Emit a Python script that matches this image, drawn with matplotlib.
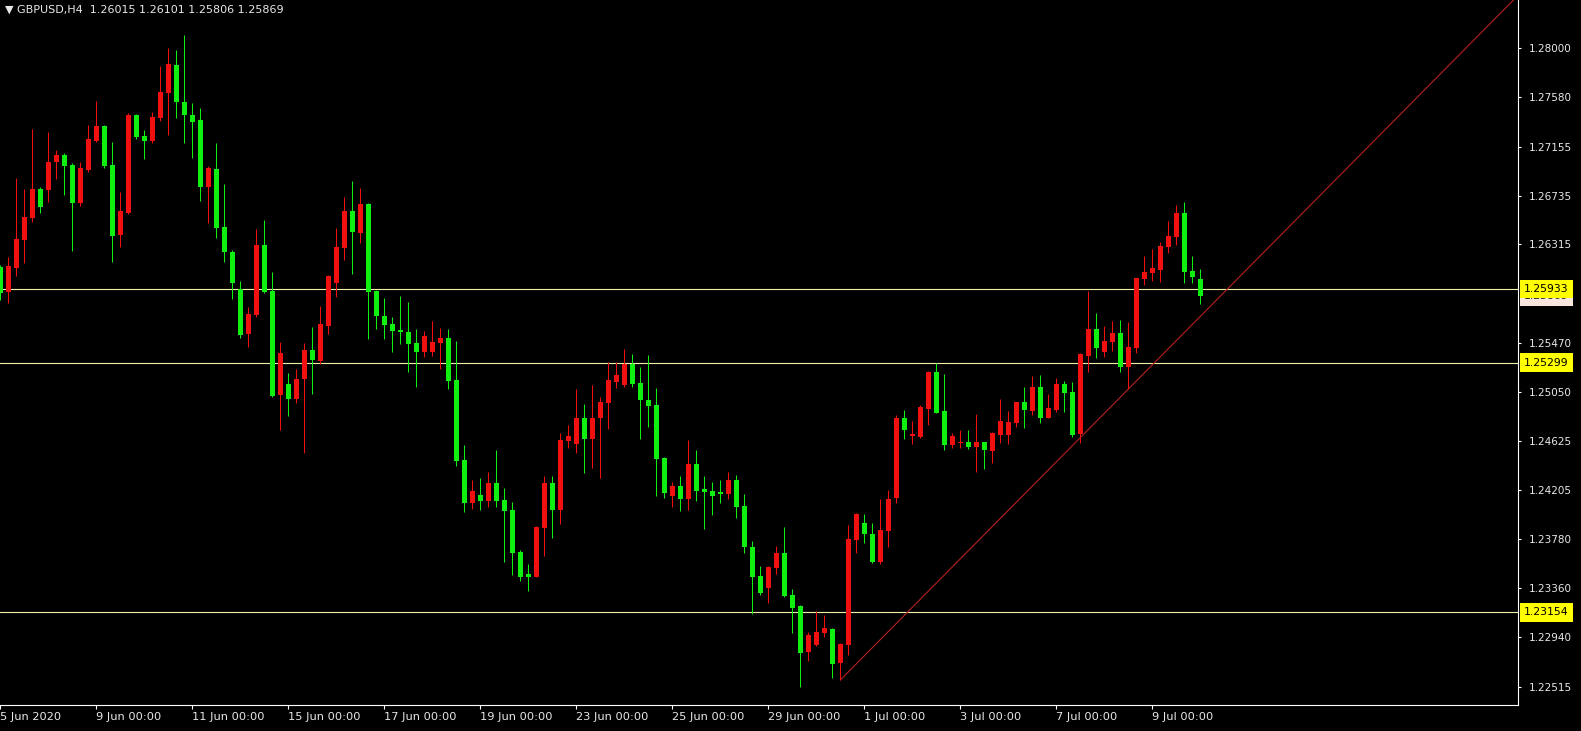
import matplotlib
matplotlib.use("Agg")
import matplotlib.pyplot as plt
import matplotlib.transforms as mtransforms
import numpy as np

# GBPUSD H4 candles (bar 0 = leftmost visible)
title_text = "\u25bc GBPUSD,H4  1.26015 1.26101 1.25806 1.25869"

opens = [
    1.26121, 1.25909, 1.26115, 1.26353, 1.26540, 1.26794, 1.26783, 1.27024, 1.27087, 1.27001,
    1.26669, 1.26955, 1.27204, 1.27333, 1.26998, 1.26396, 1.26588, 1.27428, 1.27247, 1.27204,
    1.27405, 1.27619, 1.27857, 1.27542, 1.27428, 1.27385, 1.26806, 1.26964, 1.26463, 1.26253,
    1.25930, 1.25543, 1.25709, 1.26311, 1.25915, 1.25021, 1.25116, 1.24984, 1.25155, 1.25408,
    1.25316, 1.25614, 1.25981, 1.26283, 1.26605, 1.26411, 1.26660, 1.25918, 1.25703, 1.25632,
    1.25580, 1.25563, 1.25471, 1.25391, 1.25391, 1.25471, 1.25511, 1.25150, 1.24463, 1.24096,
    1.24162, 1.24110, 1.24268, 1.24119, 1.24033, 1.23675, 1.23483, 1.23460, 1.23881, 1.24263,
    1.24033, 1.24629, 1.24600, 1.24821, 1.24643, 1.24824, 1.24953, 1.25136, 1.25107, 1.25288,
    1.25122, 1.24978, 1.24935, 1.24477, 1.24153, 1.24242, 1.24130, 1.24428, 1.24214, 1.24196,
    1.24190, 1.24171, 1.24290, 1.24070, 1.23718, 1.23466, 1.23360, 1.23537, 1.23666, 1.23303,
    1.23208, 1.22815, 1.22873, 1.22979, 1.23010, 1.22716, 1.22873, 1.23775, 1.23918, 1.23827,
    1.23584, 1.23853, 1.24134, 1.24821, 1.24672, 1.24663, 1.24901, 1.25222, 1.24884, 1.24594,
    1.24611, 1.24620, 1.24572, 1.24615, 1.24543, 1.24678, 1.24678, 1.24783, 1.24958, 1.24884,
    1.25093, 1.24826, 1.24890, 1.25116, 1.25049, 1.24684, 1.25359, 1.25589, 1.25388, 1.25479,
    1.25557, 1.25265, 1.25428, 1.26016, 1.26067, 1.26096, 1.26296, 1.26382, 1.26588, 1.26087,
    1.26015,
]
highs = [
    1.26139, 1.26210, 1.26889, 1.26792, 1.27305, 1.26812, 1.27279, 1.27127, 1.27098, 1.27013,
    1.27026, 1.27342, 1.27551, 1.27342, 1.27193, 1.26763, 1.27442, 1.27436, 1.27298, 1.27451,
    1.27849, 1.28001, 1.27986, 1.28115, 1.27528, 1.27485, 1.26989, 1.27185, 1.26832, 1.26268,
    1.26004, 1.25780, 1.26448, 1.26525, 1.26076, 1.25479, 1.25208, 1.25242, 1.25471, 1.25608,
    1.25786, 1.26050, 1.26459, 1.26726, 1.26860, 1.26798, 1.26669, 1.25924, 1.25852, 1.25694,
    1.25872, 1.25821, 1.25589, 1.25574, 1.25660, 1.25595, 1.25589, 1.25485, 1.24594, 1.24290,
    1.24311, 1.24360, 1.24549, 1.24220, 1.24104, 1.23689, 1.23566, 1.23896, 1.24325, 1.24328,
    1.24694, 1.24764, 1.25070, 1.24944, 1.25107, 1.25007, 1.25303, 1.25308, 1.25414, 1.25371,
    1.25259, 1.25365, 1.25083, 1.24491, 1.24276, 1.24325, 1.24635, 1.24549, 1.24325, 1.24271,
    1.24290, 1.24357, 1.24334, 1.24168, 1.23767, 1.23552, 1.23554, 1.23726, 1.23884, 1.23354,
    1.23215, 1.22987, 1.23165, 1.23131, 1.23016, 1.22887, 1.23904, 1.24005, 1.23998, 1.23918,
    1.24128, 1.24205, 1.24849, 1.24893, 1.24798, 1.24935, 1.25230, 1.25294, 1.25202, 1.24694,
    1.24717, 1.24717, 1.24858, 1.24620, 1.24705, 1.24987, 1.24884, 1.24964, 1.25087, 1.25185,
    1.25194, 1.25030, 1.25165, 1.25144, 1.25130, 1.25380, 1.25918, 1.25724, 1.25614, 1.25657,
    1.25666, 1.25651, 1.26029, 1.26216, 1.26274, 1.26339, 1.26517, 1.26654, 1.26677, 1.26216,
    1.26101,
]
lows = [
    1.25838, 1.25815, 1.26047, 1.26158, 1.26506, 1.26588, 1.26683, 1.26878, 1.26740, 1.26262,
    1.26646, 1.26940, 1.27196, 1.26970, 1.26162, 1.26296, 1.26574, 1.27224, 1.27047, 1.27184,
    1.27379, 1.27256, 1.27399, 1.27190, 1.27061, 1.26691, 1.26497, 1.26368, 1.26167, 1.25844,
    1.25509, 1.25437, 1.25694, 1.25895, 1.25007, 1.24717, 1.24841, 1.24955, 1.24523, 1.25030,
    1.25285, 1.25546, 1.25861, 1.26182, 1.26061, 1.26325, 1.25500, 1.25589, 1.25503, 1.25394,
    1.25460, 1.25222, 1.25087, 1.25350, 1.25359, 1.25242, 1.25073, 1.24412, 1.24013, 1.24039,
    1.24033, 1.24061, 1.24056, 1.23589, 1.23474, 1.23425, 1.23339, 1.23455, 1.23638, 1.23793,
    1.23910, 1.24563, 1.24525, 1.24349, 1.24397, 1.24304, 1.24725, 1.25079, 1.25087, 1.25093,
    1.24641, 1.24749, 1.24153, 1.24134, 1.24061, 1.24027, 1.24033, 1.24110, 1.23870, 1.23990,
    1.24091, 1.24128, 1.23963, 1.23661, 1.23137, 1.23303, 1.23236, 1.23483, 1.23283, 1.22979,
    1.22509, 1.22735, 1.22864, 1.22944, 1.22587, 1.22572, 1.22787, 1.23666, 1.23752, 1.23575,
    1.23569, 1.23718, 1.24096, 1.24641, 1.24598, 1.24649, 1.24764, 1.24864, 1.24549, 1.24563,
    1.24568, 1.24555, 1.24362, 1.24383, 1.24440, 1.24612, 1.24600, 1.24749, 1.24740, 1.24849,
    1.24783, 1.24821, 1.24878, 1.24878, 1.24658, 1.24612, 1.25222, 1.25342, 1.25350, 1.25402,
    1.25222, 1.25070, 1.25386, 1.25967, 1.26004, 1.25995, 1.26239, 1.26311, 1.25987, 1.25987,
    1.25806,
]
closes = [
    1.25898, 1.26130, 1.26362, 1.26554, 1.26792, 1.26640, 1.27024, 1.27084, 1.26989, 1.26669,
    1.26975, 1.27221, 1.27333, 1.26989, 1.26390, 1.26603, 1.27428, 1.27236, 1.27207, 1.27413,
    1.27628, 1.27866, 1.27537, 1.27428, 1.27370, 1.26806, 1.26970, 1.26459, 1.26248, 1.25987,
    1.25537, 1.25718, 1.26311, 1.25909, 1.25015, 1.25380, 1.24987, 1.25159, 1.25408, 1.25322,
    1.25632, 1.26044, 1.26291, 1.26605, 1.26425, 1.26660, 1.25909, 1.25700, 1.25623, 1.25571,
    1.25563, 1.25460, 1.25391, 1.25531, 1.25477, 1.25514, 1.25144, 1.24454, 1.24096, 1.24196,
    1.24110, 1.24268, 1.24110, 1.24027, 1.23666, 1.23460, 1.23460, 1.23889, 1.24263, 1.24033,
    1.24635, 1.24672, 1.24821, 1.24643, 1.24826, 1.24964, 1.25146, 1.25195, 1.25288, 1.25116,
    1.24978, 1.24929, 1.24469, 1.24183, 1.24242, 1.24128, 1.24428, 1.24196, 1.24190, 1.24156,
    1.24173, 1.24290, 1.24061, 1.23718, 1.23460, 1.23322, 1.23546, 1.23661, 1.23294, 1.23194,
    1.22807, 1.22958, 1.22982, 1.23016, 1.22710, 1.22881, 1.23781, 1.23998, 1.23824, 1.23584,
    1.23861, 1.24125, 1.24821, 1.24721, 1.24684, 1.24921, 1.25222, 1.24869, 1.24594, 1.24669,
    1.24620, 1.24572, 1.24618, 1.24549, 1.24692, 1.24798, 1.24792, 1.24958, 1.24893, 1.25087,
    1.24824, 1.24907, 1.25114, 1.25041, 1.24678, 1.25371, 1.25586, 1.25423, 1.25485, 1.25557,
    1.25265, 1.25437, 1.26024, 1.26082, 1.26110, 1.26305, 1.26388, 1.26588, 1.26082, 1.26038,
    1.25869,
]

tick_bars = [0, 12, 24, 36, 48, 60, 72, 84, 96, 108, 120, 132, 144]
tick_labels = ["5 Jun 2020", "9 Jun 00:00", "11 Jun 00:00", "15 Jun 00:00", "17 Jun 00:00",
               "19 Jun 00:00", "23 Jun 00:00", "25 Jun 00:00", "29 Jun 00:00", "1 Jul 00:00",
               "3 Jul 00:00", "7 Jul 00:00", "9 Jul 00:00"]
price_ticks = [1.28000, 1.27580, 1.27155, 1.26735, 1.26315, 1.25470, 1.25050,
               1.24625, 1.24205, 1.23780, 1.23360, 1.22940, 1.22515]

level_prices = [1.25933, 1.25299, 1.23154]   # horizontal lines
bid_price = 1.25869
trend_bars = [105, 151]                        # trend line anchors (ray to the right)
trend_prices = [1.22572, 1.25767]

W, H = 1581, 731
BULL, BEAR = "#f01010", "#10f010"
TXT = "#e8e8e8"

fig = plt.figure(figsize=(W / 100, H / 100), dpi=100, facecolor="black")
ax = fig.add_axes([0, 26 / H, 1518 / W, 705 / H], facecolor="black")

x_right = 189.7
ax.set_xlim(-0.04, x_right)
ax.set_ylim(1.22357, 1.28416)

o = np.array(opens)
hi = np.array(highs)
lo = np.array(lows)
c = np.array(closes)
x = np.arange(len(o))
colors = np.where(c >= o, BULL, BEAR)

# wicks, then bodies (at least one pixel tall for dojis)
ax.vlines(x, lo, hi, colors=colors, lw=0.75, zorder=3)
body_h = np.maximum(np.abs(c - o), 0.00009)
ax.bar(x, body_h, bottom=np.minimum(o, c), width=0.625, color=colors,
       linewidth=0, zorder=4)

for p in level_prices:
    ax.axhline(p, color="#f0f0a8", lw=0.8, zorder=2)

slope = (trend_prices[1] - trend_prices[0]) / (trend_bars[1] - trend_bars[0])
ax.plot([trend_bars[0], x_right],
        [trend_prices[0], trend_prices[0] + slope * (x_right - trend_bars[0])],
        color="#b82020", lw=0.8, zorder=2)

# axes look of the terminal
for s in ["left", "top"]:
    ax.spines[s].set_visible(False)
for s in ["right", "bottom"]:
    ax.spines[s].set_color("white")
    ax.spines[s].set_linewidth(0.8)

ax.set_xticks(tick_bars)
ax.set_xticklabels(tick_labels, ha="left")
ax.tick_params(axis="x", colors="white", labelcolor=TXT, length=3, width=0.8,
               labelsize=8.2, pad=2)
ax.yaxis.tick_right()
ax.set_yticks(price_ticks)
ax.set_yticklabels([f"{p:.5f}" for p in price_ticks])
ax.tick_params(axis="y", colors="white", labelcolor=TXT, length=2.5, width=0.8,
               labelsize=7.5, pad=5)

trans = mtransforms.blended_transform_factory(ax.transAxes, ax.transData)
lab_x = 1.0 + 6 / 1518
ax.text(lab_x, bid_price, f"{bid_price:.5f}", transform=trans, ha="left", va="center",
        fontsize=7.8, color="#202020", clip_on=False, zorder=5,
        bbox=dict(boxstyle="square,pad=0.4", fc="#f8e6dc", ec="none"))
for p in level_prices:
    ax.text(lab_x, p, f"{p:.5f}", transform=trans, ha="left", va="center",
            fontsize=7.8, color="black", clip_on=False, zorder=6,
            bbox=dict(boxstyle="square,pad=0.4", fc="#ffff00", ec="none"))

fig.text(5 / W, 1 - 10 / H, title_text, color=TXT, fontsize=8, ha="left", va="center")

fig.savefig("out.png", dpi=100, facecolor="black")
